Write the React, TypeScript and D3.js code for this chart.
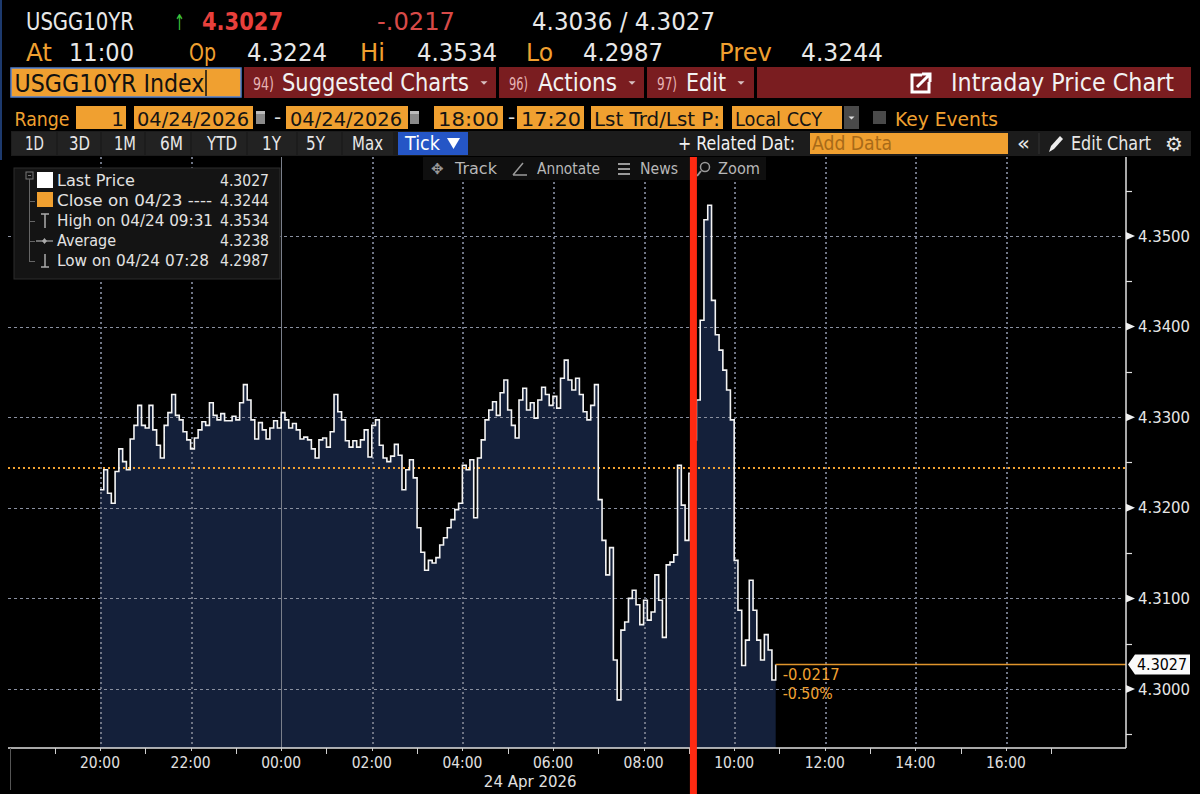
import React from 'react';
import * as d3 from 'd3';

const W = 1200;
const H = 794;

// ---- data ----
const ticker = 'USGG10YR';
const seriesStart = '20:00'; // 04/23 evening session start
const stepMinutes = 5;
const lastPrice: number[] = [
  4.3220, 4.3242, 4.3216, 4.3205, 4.3240, 4.3265, 4.3251, 4.3242, 4.3276, 4.3291,
  4.3313, 4.3291, 4.3288, 4.3313, 4.3286, 4.3269, 4.3255, 4.3291, 4.3305, 4.3325,
  4.3302, 4.3297, 4.3284, 4.3275, 4.3265, 4.3277, 4.3286, 4.3295, 4.3291, 4.3316,
  4.3302, 4.3297, 4.3304, 4.3296, 4.3296, 4.3301, 4.3297, 4.3316, 4.3336, 4.3319,
  4.3297, 4.3276, 4.3294, 4.3286, 4.3276, 4.3288, 4.3296, 4.3288, 4.3305, 4.3297,
  4.3288, 4.3293, 4.3286, 4.3276, 4.3278, 4.3275, 4.3265, 4.3255, 4.3275, 4.3277,
  4.3267, 4.3284, 4.3325, 4.3306, 4.3297, 4.3274, 4.3267, 4.3274, 4.3267, 4.3275,
  4.3286, 4.3256, 4.3291, 4.3297, 4.3269, 4.3255, 4.3251, 4.3257, 4.3270, 4.3258,
  4.3220, 4.3242, 4.3253, 4.3233, 4.3178, 4.3151, 4.3131, 4.3142, 4.3139, 4.3145,
  4.3159, 4.3167, 4.3178, 4.3187, 4.3198, 4.3205, 4.3247, 4.3242, 4.3253, 4.3189,
  4.3255, 4.3275, 4.3297, 4.3308, 4.3317, 4.3302, 4.3327, 4.3341, 4.3308, 4.3291,
  4.3277, 4.3319, 4.3332, 4.3308, 4.3316, 4.3299, 4.3319, 4.3333, 4.3325, 4.3313,
  4.3323, 4.3310, 4.3343, 4.3363, 4.3341, 4.3330, 4.3343, 4.3325, 4.3306, 4.3297,
  4.3313, 4.3336, 4.3209, 4.3164, 4.3126, 4.3156, 4.3032, 4.2988, 4.3065, 4.3074,
  4.3100, 4.3109, 4.3093, 4.3071, 4.3098, 4.3076, 4.3085, 4.3126, 4.3098, 4.3057,
  4.3137, 4.3140, 4.3148, 4.3247, 4.3203, 4.3164, 4.3238, 4.3275, 4.3319, 4.3407,
  4.3518, 4.3534, 4.3429, 4.3391, 4.3374, 4.3352, 4.3330, 4.3297, 4.3142, 4.3087,
  4.3026, 4.3054, 4.3120, 4.3087, 4.3054, 4.3032, 4.3060, 4.3043, 4.3010, 4.3027,
];
const lastValue = 4.3027;
const prevClose = 4.3244;
const netChange = '-0.0217';
const pctChange = '-0.50%';
const yTicks = [4.30, 4.31, 4.32, 4.33, 4.34, 4.35];
const yMinorTicks = [4.295, 4.305, 4.315, 4.325, 4.335, 4.345, 4.355];
const xTickLabels = ['20:00', '22:00', '00:00', '02:00', '04:00', '06:00', '08:00', '10:00', '12:00', '14:00', '16:00'];
const xMinorLabels = ['19:00', '21:00', '23:00', '01:00', '03:00', '05:00', '07:00', '09:00', '11:00', '13:00', '15:00', '17:00'];
const dayBreak = '00:00';
const dateLabel = '24 Apr 2026';
const markerTime = '09:06';
const legendLabels = ['Last Price', 'Close on 04/23 ----', 'High on 04/24 09:31', 'Average', 'Low on 04/24 07:28'];
const legendValues = ['4.3027', '4.3244', '4.3534', '4.3238', '4.2987'];
const legendWidths = [78, 155, 156, 59, 152];
const periodButtons = ['1D', '3D', '1M', '6M', 'YTD', '1Y', '5Y', 'Max'];

// ---- style ----
const F = "'DejaVu Sans', 'Liberation Sans', sans-serif";
const ORANGE = '#f0a030';
const WHITE = '#e8e8e8';
const BAR_RED = '#7a1d20';

const hourOf = (lbl: string) => {
  const [hh, mm] = lbl.split(':').map(Number);
  const t = hh + mm / 60 - 18;
  return t < 0 ? t + 24 : t;
};

type TP = {
  x: number; y: number; children: React.ReactNode; size?: number; fill?: string;
  w?: number; anchor?: 'start' | 'middle' | 'end'; weight?: number; family?: string;
};
const Txt = ({ x, y, children, size = 15, fill = WHITE, w, anchor = 'start', weight = 400, family = F }: TP) => (
  <text
    x={x}
    y={y}
    fontSize={size}
    fill={fill}
    fontFamily={family}
    fontWeight={weight}
    textAnchor={anchor}
    {...(w ? { textLength: w, lengthAdjust: 'spacingAndGlyphs' } : {})}
  >
    {children}
  </text>
);

const DownTri = ({ cx, cy, s = 4, fill = '#d8c0c0' }: { cx: number; cy: number; s?: number; fill?: string }) => (
  <path d={`M${cx - s},${cy - s / 2} L${cx + s},${cy - s / 2} L${cx},${cy + s / 2} Z`} fill={fill} />
);

export default function App() {
  const plotLeft = 8;
  const plotRight = 1126;
  const plotTop = 157;
  const plotBottom = 748;

  const x = d3.scaleLinear().domain([0, 24.65]).range([9.4, plotRight]);
  const y = d3.scaleLinear().domain([4.30, 4.35]).range([689, 236]);

  const h0 = hourOf(seriesStart);
  const data = lastPrice.map((v, i) => ({ h: h0 + (i * stepMinutes) / 60, v }));
  const lastH = data[data.length - 1].h;

  const area = d3
    .area<{ h: number; v: number }>()
    .x((d) => x(d.h))
    .y0(plotBottom)
    .y1((d) => y(d.v))
    .curve(d3.curveStepAfter);
  const line = d3
    .line<{ h: number; v: number }>()
    .x((d) => x(d.h))
    .y((d) => y(d.v))
    .curve(d3.curveStepAfter);

  const markerX = x(hourOf(markerTime));
  const dayX = Math.round(x(hourOf(dayBreak)));

  // grid drawn as small dash rectangles (crisp, always visible)
  const hDash: { x: number; y: number }[] = [];
  yTicks.forEach((t) => {
    const gy = Math.round(y(t));
    for (let gx = plotLeft; gx < plotRight - 2; gx += 6) hDash.push({ x: gx, y: gy });
  });
  const vDash: { x: number; y: number }[] = [];
  xTickLabels.forEach((l) => {
    if (l === dayBreak) return;
    const gx = Math.round(x(hourOf(l)));
    for (let gy = plotTop; gy < plotBottom - 2; gy += 5) vDash.push({ x: gx, y: gy });
  });

  return (
    <svg width={W} height={H} style={{ position: 'absolute', left: 0, top: 0, background: '#000' }}>
      <rect x={0} y={0} width={W} height={H} fill="#000" />
      <rect x={0} y={0} width={2} height={160} fill="#1d3a6e" />

      {/* ---------- header row 1 ---------- */}
      <Txt x={26} y={30} size={24} w={108}>{ticker}</Txt>
      <Txt x={174} y={30} size={22} fill="#3cc43c" w={11}>↑</Txt>
      <Txt x={202} y={30} size={24} fill="#e8403c" weight={700} w={81}>{lastValue.toFixed(4)}</Txt>
      <Txt x={377} y={30} size={24} fill="#d84a48" w={78}>-.0217</Txt>
      <Txt x={532} y={30} size={24} w={183}>4.3036 / 4.3027</Txt>

      {/* ---------- header row 2 ---------- */}
      <Txt x={26} y={61} size={24} fill={ORANGE} w={26}>At</Txt>
      <Txt x={69} y={61} size={24} w={65}>11:00</Txt>
      <Txt x={189} y={61} size={24} fill={ORANGE} w={27}>Op</Txt>
      <Txt x={247} y={61} size={24} w={80}>4.3224</Txt>
      <Txt x={360} y={61} size={24} fill={ORANGE} w={25}>Hi</Txt>
      <Txt x={417} y={61} size={24} w={80}>4.3534</Txt>
      <Txt x={526} y={61} size={24} fill={ORANGE} w={27}>Lo</Txt>
      <Txt x={583} y={61} size={24} w={80}>4.2987</Txt>
      <Txt x={719} y={61} size={24} fill={ORANGE} w={53}>Prev</Txt>
      <Txt x={801} y={61} size={24} w={82}>{prevClose.toFixed(4)}</Txt>

      {/* ---------- header row 3 (red bar) ---------- */}
      <rect x={11} y={68} width={230} height={29} fill={ORANGE} stroke="#4f7fd0" strokeWidth={1.5} />
      <Txt x={14.5} y={92} size={24} fill="#111" w={190}>USGG10YR Index</Txt>
      <line x1={206} x2={206} y1={70} y2={96} stroke="#111" strokeWidth={1.5} />
      <rect x={244} y={67} width={252} height={31} fill={BAR_RED} />
      <rect x={499} y={67} width={145} height={31} fill={BAR_RED} />
      <rect x={647} y={67} width={107} height={31} fill={BAR_RED} />
      <rect x={757} y={67} width={434} height={31} fill={BAR_RED} />
      <Txt x={253} y={90} size={17} fill="#e6b3b3" w={21}>94)</Txt>
      <Txt x={282} y={91} size={24} fill="#f2f2f2" w={187}>Suggested Charts</Txt>
      <DownTri cx={484} cy={83} s={3.5} />
      <Txt x={509} y={90} size={17} fill="#e6b3b3" w={19}>96)</Txt>
      <Txt x={538} y={91} size={24} fill="#f2f2f2" w={79}>Actions</Txt>
      <DownTri cx={632} cy={83} s={3.5} />
      <Txt x={657} y={90} size={17} fill="#e6b3b3" w={20}>97)</Txt>
      <Txt x={686} y={91} size={24} fill="#f2f2f2" w={40}>Edit</Txt>
      <DownTri cx={741} cy={83} s={3.5} />
      <path d="M922,75 L912,75 L912,92 L929,92 L929,82" fill="none" stroke="#fff" strokeWidth={3} />
      <path d="M917,87 L929,75 M922,74 L930,74 L930,82" fill="none" stroke="#fff" strokeWidth={3} />
      <Txt x={951} y={91} size={24} fill="#f2f2f2" w={223}>Intraday Price Chart</Txt>

      {/* ---------- header row 4 ---------- */}
      <Txt x={14.5} y={126} size={20} fill={ORANGE} w={55}>Range</Txt>
      <rect x={76} y={106} width={50} height={23} fill={ORANGE} />
      <Txt x={124} y={126} size={20} fill="#141414" anchor="end">1</Txt>
      <rect x={134} y={106} width={119} height={23} fill={ORANGE} />
      <Txt x={137} y={126} size={20} fill="#141414" w={112}>04/24/2026</Txt>
      <rect x={256} y={111} width={9} height={13} fill="#8a8a8a" />
      <rect x={256} y={111} width={9} height={3} fill="#bbb" />
      <Txt x={274} y={124} size={20} fill="#ddd">-</Txt>
      <rect x={286} y={106} width={122} height={23} fill={ORANGE} />
      <Txt x={290} y={126} size={20} fill="#141414" w={112}>04/24/2026</Txt>
      <rect x={410} y={111} width={9} height={13} fill="#8a8a8a" />
      <rect x={410} y={111} width={9} height={3} fill="#bbb" />
      <rect x={434} y={106} width={69} height={23} fill={ORANGE} />
      <Txt x={438} y={126} size={20} fill="#141414" w={61}>18:00</Txt>
      <Txt x={508} y={124} size={20} fill="#ddd">-</Txt>
      <rect x={517} y={106} width={67} height={23} fill={ORANGE} />
      <Txt x={521} y={126} size={20} fill="#141414" w={60}>17:20</Txt>
      <rect x={591} y={106} width={132} height={23} fill={ORANGE} />
      <Txt x={594} y={126} size={20} fill="#141414" w={126}>Lst Trd/Lst P:</Txt>
      <rect x={732} y={106} width={110} height={23} fill={ORANGE} />
      <Txt x={735} y={126} size={20} fill="#141414" w={87}>Local CCY</Txt>
      <rect x={844} y={106} width={15} height={23} fill="#4a4a4a" />
      <DownTri cx={851.5} cy={118} s={3} fill="#ddd" />
      <rect x={873} y={111} width={13} height={13} fill="#4a4a4a" />
      <Txt x={895} y={126} size={20} fill={ORANGE} w={103}>Key Events</Txt>

      {/* ---------- header row 5 ---------- */}
      <rect x={11} y={131} width={1180} height={25} fill="#1c1c1c" />
      {[11, 57, 101, 145, 191, 247, 297, 342].map((bx, i, arr) => {
        const nx = i < arr.length - 1 ? arr[i + 1] : 394;
        return <rect key={'c' + i} x={bx + 1} y={132} width={nx - bx - 2} height={23} fill="#222" />;
      })}
      {periodButtons.map((b, i) => {
        const xs = [25, 69, 114, 160, 207, 262, 306, 352];
        const ws = [19, 21, 22, 23, 30, 19, 19, 31];
        return (
          <Txt key={b} x={xs[i]} y={150} size={19} w={ws[i]}>
            {b}
          </Txt>
        );
      })}
      <rect x={398} y={132} width={70} height={23} fill="#2556c6" />
      <Txt x={405} y={150} size={19} fill="#fff" w={35}>Tick</Txt>
      <path d="M447,138 L460,138 L453.5,149 Z" fill="#fff" />
      <Txt x={678} y={150} size={19} fill="#f2f2f2" w={117}>+ Related Dat:</Txt>
      <rect x={810} y={133} width={198} height={21} fill={ORANGE} />
      <Txt x={812} y={150} size={19} fill="#a86a18" w={80}>Add Data</Txt>
      <Txt x={1017} y={150} size={20} fill="#e8e8e8" w={13}>«</Txt>
      <line x1={1039} x2={1039} y1={133} y2={154} stroke="#333" />
      <path d="M1049,152 L1051,146 L1060,136 L1063,139 L1054,149 Z" fill="#eee" />
      <Txt x={1071} y={150} size={19} w={80}>Edit Chart</Txt>
      <Txt x={1165} y={151} size={20} fill="#e8e8e8">⚙</Txt>

      {/* ---------- plot ---------- */}
      <path d={area(data) || ''} fill="#14203a" />

      {/* grid */}
      <g shapeRendering="crispEdges">
        {hDash.map((d, i) => (
          <rect key={'h' + i} x={d.x} y={d.y} width={3} height={1} fill="#8a90a0" />
        ))}
        {vDash.map((d, i) => (
          <rect key={'v' + i} x={d.x} y={d.y} width={2} height={2} fill="#6f7585" />
        ))}
      </g>
      <rect x={dayX} y={plotTop} width={1} height={plotBottom - plotTop} fill="#7a7f8a" />

      {/* previous close */}
      <line x1={plotLeft} x2={plotRight} y1={Math.round(y(prevClose))} y2={Math.round(y(prevClose))} stroke="#f0a030" strokeWidth={2.2} strokeDasharray="2,3" />

      {/* price line */}
      <path d={line(data) || ''} fill="none" stroke="#f4f4f4" strokeWidth={1.6} />

      {/* last price extension */}
      <line x1={x(lastH)} x2={plotRight} y1={y(lastValue)} y2={y(lastValue)} stroke="#e0952c" strokeWidth={1.6} />
      <Txt x={x(lastH) + 7} y={680} size={15} fill={ORANGE} w={57}>{netChange}</Txt>
      <Txt x={x(lastH) + 7} y={699} size={15} fill={ORANGE} w={50}>{pctChange}</Txt>

      {/* toolbar over chart */}
      <rect x={423} y={157} width={343} height={23} fill="#0f0f0f" />
      <Txt x={431} y={174} size={15} fill="#9a9a9a">✥</Txt>
      <Txt x={455} y={174} size={15} fill="#b8b8b8" w={42}>Track</Txt>
      <path d="M513,175 L527,175 M513,175 L523,163" stroke="#9a9a9a" strokeWidth={1.5} fill="none" />
      <Txt x={537} y={174} size={15} fill="#b8b8b8" w={63}>Annotate</Txt>
      <path d="M618,164 L630,164 M618,169 L630,169 M618,174 L630,174" stroke="#9a9a9a" strokeWidth={2} fill="none" />
      <Txt x={640} y={174} size={15} fill="#b8b8b8" w={38}>News</Txt>
      <circle cx={705} cy={167} r={4.5} fill="none" stroke="#9a9a9a" strokeWidth={1.5} />
      <line x1={701} y1={171} x2={697} y2={176} stroke="#9a9a9a" strokeWidth={2} />
      <Txt x={718} y={174} size={15} fill="#b8b8b8" w={42}>Zoom</Txt>

      {/* legend */}
      <rect x={14} y={168} width={266} height={111} fill="#141414" stroke="#2c2c2c" />
      <rect x={26} y={172} width={7} height={7} fill="none" stroke="#777" />
      <line x1={28} x2={31} y1={175.5} y2={175.5} stroke="#777" />
      <line x1={29.5} x2={29.5} y1={179} y2={262} stroke="#666" />
      {[201, 221, 241, 261].map((ly) => (
        <line key={'st' + ly} x1={29.5} x2={35} y1={ly + 0.5} y2={ly + 0.5} stroke="#666" />
      ))}
      <rect x={37} y={172} width={16} height={16} fill="#fff" />
      <rect x={37} y={192} width={16} height={15} fill={ORANGE} />
      <path d="M41,214 L49,214 M45,214 L45,228" stroke="#aaa" strokeWidth={1.5} fill="none" />
      <path d="M36,241 L53,241" stroke="#aaa" strokeWidth={1.2} fill="none" />
      <path d="M44.5,238 L47,241 L44.5,244 L42,241 Z" fill="#aaa" />
      <path d="M45,254 L45,267 M41,267 L49,267" stroke="#aaa" strokeWidth={1.5} fill="none" />
      {legendLabels.map((l, i) => (
        <g key={l}>
          <Txt x={57} y={186 + i * 20} size={15} fill="#e2e2e2" w={legendWidths[i]}>{l}</Txt>
          <Txt x={220} y={186 + i * 20} size={15} fill="#e2e2e2" w={49}>{legendValues[i]}</Txt>
        </g>
      ))}

      {/* right axis */}
      <line x1={plotRight} x2={plotRight} y1={plotTop} y2={plotBottom} stroke="#e0e0e0" strokeWidth={1.5} />
      {yMinorTicks.map((t) => (
        <line key={'ym' + t} x1={plotRight} x2={plotRight + 6} y1={Math.round(y(t)) + 0.5} y2={Math.round(y(t)) + 0.5} stroke="#e0e0e0" strokeWidth={1.2} />
      ))}
      {yTicks.map((t) => (
        <g key={'yt' + t}>
          <path d={`M${plotRight},${y(t) - 4} L${plotRight + 9},${y(t)} L${plotRight},${y(t) + 4} Z`} fill="#f0f0f0" />
          <Txt x={1138} y={y(t) + 5.5} size={15} fill="#e6e6e6" w={52}>{t.toFixed(4)}</Txt>
        </g>
      ))}
      <path
        d={`M${plotRight + 2},${y(lastValue)} L${plotRight + 9},${y(lastValue) - 10} L1190,${y(lastValue) - 10} L1190,${y(lastValue) + 10} L${plotRight + 9},${y(lastValue) + 10} Z`}
        fill="#fafafa"
      />
      <Txt x={1137} y={y(lastValue) + 5.5} size={15} fill="#000" w={50}>{lastValue.toFixed(4)}</Txt>

      {/* bottom axis */}
      <line x1={plotLeft} x2={plotRight} y1={plotBottom} y2={plotBottom} stroke="#e0e0e0" strokeWidth={1.5} />
      <line x1={10.5} x2={10.5} y1={plotBottom} y2={790} stroke="#555" />
      {xMinorLabels.map((l) => (
        <line key={'xm' + l} x1={Math.round(x(hourOf(l))) + 0.5} x2={Math.round(x(hourOf(l))) + 0.5} y1={plotBottom} y2={plotBottom + 6} stroke="#d0d0d0" />
      ))}
      {xTickLabels.map((l) => (
        <g key={'xt' + l}>
          <line x1={Math.round(x(hourOf(l))) + 0.5} x2={Math.round(x(hourOf(l))) + 0.5} y1={plotBottom} y2={plotBottom + 3} stroke="#d0d0d0" />
          <Txt x={x(hourOf(l)) - 20} y={768} size={15} fill="#e0e0e0" w={40}>{l}</Txt>
        </g>
      ))}
      <Txt x={(dayX + x(hourOf('11:00'))) / 2} y={787} size={15} fill="#e0e0e0" anchor="middle">{dateLabel}</Txt>

      {/* red annotation line */}
      <rect x={markerX - 3.5} y={plotTop} width={7} height={H - plotTop} fill="#ff2a12" />
    </svg>
  );
}
